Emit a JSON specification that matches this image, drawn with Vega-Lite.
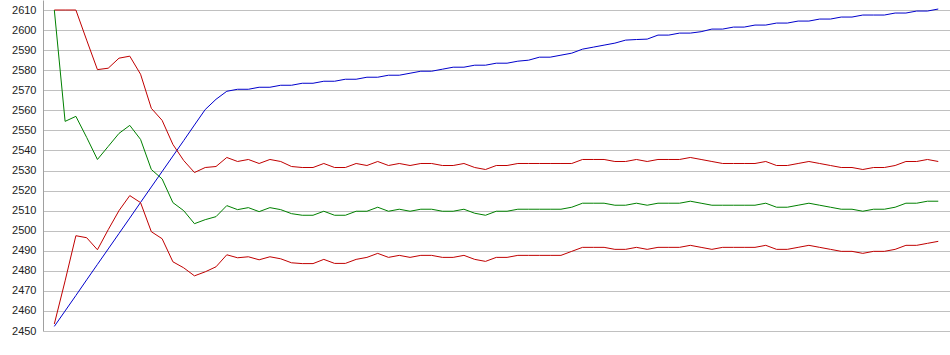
{
"$schema": "https://vega.github.io/schema/vega-lite/v6.json",
"width": 907, "height": 331,
"autosize": "none",
"padding": {"left": 43, "top": 0, "right": 0, "bottom": 24},
"background": "white",
"config": {"view": {"stroke": null}},
"data": {"values": [
{"i":0,"s":"b","v":2452.3},{"i":1,"s":"b","v":2460},{"i":2,"s":"b","v":2467.7},{"i":3,"s":"b","v":2475.5},{"i":4,"s":"b","v":2483.2},{"i":5,"s":"b","v":2490.9},{"i":6,"s":"b","v":2498.6},{"i":7,"s":"b","v":2506.3},{"i":8,"s":"b","v":2514.1},{"i":9,"s":"b","v":2521.8},{"i":10,"s":"b","v":2529.5},{"i":11,"s":"b","v":2537.2},{"i":12,"s":"b","v":2544.9},{"i":13,"s":"b","v":2552.7},{"i":14,"s":"b","v":2560.4},{"i":15,"s":"b","v":2565.5},{"i":16,"s":"b","v":2569.5},{"i":17,"s":"b","v":2570.5},{"i":18,"s":"b","v":2570.5},{"i":19,"s":"b","v":2571.5},{"i":20,"s":"b","v":2571.5},{"i":21,"s":"b","v":2572.5},{"i":22,"s":"b","v":2572.5},{"i":23,"s":"b","v":2573.5},{"i":24,"s":"b","v":2573.5},{"i":25,"s":"b","v":2574.5},{"i":26,"s":"b","v":2574.5},{"i":27,"s":"b","v":2575.5},{"i":28,"s":"b","v":2575.5},{"i":29,"s":"b","v":2576.5},{"i":30,"s":"b","v":2576.5},{"i":31,"s":"b","v":2577.5},{"i":32,"s":"b","v":2577.5},{"i":33,"s":"b","v":2578.5},{"i":34,"s":"b","v":2579.5},{"i":35,"s":"b","v":2579.5},{"i":36,"s":"b","v":2580.5},{"i":37,"s":"b","v":2581.5},{"i":38,"s":"b","v":2581.5},{"i":39,"s":"b","v":2582.5},{"i":40,"s":"b","v":2582.5},{"i":41,"s":"b","v":2583.5},{"i":42,"s":"b","v":2583.5},{"i":43,"s":"b","v":2584.5},{"i":44,"s":"b","v":2585},{"i":45,"s":"b","v":2586.5},{"i":46,"s":"b","v":2586.5},{"i":47,"s":"b","v":2587.5},{"i":48,"s":"b","v":2588.5},{"i":49,"s":"b","v":2590.5},{"i":50,"s":"b","v":2591.5},{"i":51,"s":"b","v":2592.5},{"i":52,"s":"b","v":2593.5},{"i":53,"s":"b","v":2595},{"i":54,"s":"b","v":2595.3},{"i":55,"s":"b","v":2595.5},{"i":56,"s":"b","v":2597.5},{"i":57,"s":"b","v":2597.5},{"i":58,"s":"b","v":2598.5},{"i":59,"s":"b","v":2598.5},{"i":60,"s":"b","v":2599.2},{"i":61,"s":"b","v":2600.5},{"i":62,"s":"b","v":2600.5},{"i":63,"s":"b","v":2601.5},{"i":64,"s":"b","v":2601.5},{"i":65,"s":"b","v":2602.5},{"i":66,"s":"b","v":2602.5},{"i":67,"s":"b","v":2603.5},{"i":68,"s":"b","v":2603.5},{"i":69,"s":"b","v":2604.5},{"i":70,"s":"b","v":2604.5},{"i":71,"s":"b","v":2605.5},{"i":72,"s":"b","v":2605.5},{"i":73,"s":"b","v":2606.5},{"i":74,"s":"b","v":2606.5},{"i":75,"s":"b","v":2607.5},{"i":76,"s":"b","v":2607.5},{"i":77,"s":"b","v":2607.5},{"i":78,"s":"b","v":2608.5},{"i":79,"s":"b","v":2608.5},{"i":80,"s":"b","v":2609.5},{"i":81,"s":"b","v":2609.5},{"i":82,"s":"b","v":2610.5},
{"i":0,"s":"r1","v":2610},{"i":1,"s":"r1","v":2610},{"i":2,"s":"r1","v":2610},{"i":3,"s":"r1","v":2595},{"i":4,"s":"r1","v":2580.3},{"i":5,"s":"r1","v":2581},{"i":6,"s":"r1","v":2586},{"i":7,"s":"r1","v":2587},{"i":8,"s":"r1","v":2578},{"i":9,"s":"r1","v":2561},{"i":10,"s":"r1","v":2555},{"i":11,"s":"r1","v":2543},{"i":12,"s":"r1","v":2535},{"i":13,"s":"r1","v":2529},{"i":14,"s":"r1","v":2531.5},{"i":15,"s":"r1","v":2532},{"i":16,"s":"r1","v":2536.5},{"i":17,"s":"r1","v":2534.5},{"i":18,"s":"r1","v":2535.5},{"i":19,"s":"r1","v":2533.5},{"i":20,"s":"r1","v":2535.5},{"i":21,"s":"r1","v":2534.5},{"i":22,"s":"r1","v":2532},{"i":23,"s":"r1","v":2531.5},{"i":24,"s":"r1","v":2531.5},{"i":25,"s":"r1","v":2533.5},{"i":26,"s":"r1","v":2531.5},{"i":27,"s":"r1","v":2531.5},{"i":28,"s":"r1","v":2533.5},{"i":29,"s":"r1","v":2532.5},{"i":30,"s":"r1","v":2534.5},{"i":31,"s":"r1","v":2532.5},{"i":32,"s":"r1","v":2533.5},{"i":33,"s":"r1","v":2532.5},{"i":34,"s":"r1","v":2533.5},{"i":35,"s":"r1","v":2533.5},{"i":36,"s":"r1","v":2532.5},{"i":37,"s":"r1","v":2532.5},{"i":38,"s":"r1","v":2533.5},{"i":39,"s":"r1","v":2531.5},{"i":40,"s":"r1","v":2530.5},{"i":41,"s":"r1","v":2532.5},{"i":42,"s":"r1","v":2532.5},{"i":43,"s":"r1","v":2533.5},{"i":44,"s":"r1","v":2533.5},{"i":45,"s":"r1","v":2533.5},{"i":46,"s":"r1","v":2533.5},{"i":47,"s":"r1","v":2533.5},{"i":48,"s":"r1","v":2533.5},{"i":49,"s":"r1","v":2535.5},{"i":50,"s":"r1","v":2535.5},{"i":51,"s":"r1","v":2535.5},{"i":52,"s":"r1","v":2534.5},{"i":53,"s":"r1","v":2534.5},{"i":54,"s":"r1","v":2535.5},{"i":55,"s":"r1","v":2534.5},{"i":56,"s":"r1","v":2535.5},{"i":57,"s":"r1","v":2535.5},{"i":58,"s":"r1","v":2535.5},{"i":59,"s":"r1","v":2536.5},{"i":60,"s":"r1","v":2535.5},{"i":61,"s":"r1","v":2534.5},{"i":62,"s":"r1","v":2533.5},{"i":63,"s":"r1","v":2533.5},{"i":64,"s":"r1","v":2533.5},{"i":65,"s":"r1","v":2533.5},{"i":66,"s":"r1","v":2534.5},{"i":67,"s":"r1","v":2532.5},{"i":68,"s":"r1","v":2532.5},{"i":69,"s":"r1","v":2533.5},{"i":70,"s":"r1","v":2534.5},{"i":71,"s":"r1","v":2533.5},{"i":72,"s":"r1","v":2532.5},{"i":73,"s":"r1","v":2531.5},{"i":74,"s":"r1","v":2531.5},{"i":75,"s":"r1","v":2530.5},{"i":76,"s":"r1","v":2531.5},{"i":77,"s":"r1","v":2531.5},{"i":78,"s":"r1","v":2532.5},{"i":79,"s":"r1","v":2534.5},{"i":80,"s":"r1","v":2534.5},{"i":81,"s":"r1","v":2535.5},{"i":82,"s":"r1","v":2534.5},
{"i":0,"s":"g","v":2610},{"i":1,"s":"g","v":2554.5},{"i":2,"s":"g","v":2557},{"i":3,"s":"g","v":2546.5},{"i":4,"s":"g","v":2535.5},{"i":5,"s":"g","v":2542},{"i":6,"s":"g","v":2548.5},{"i":7,"s":"g","v":2552.5},{"i":8,"s":"g","v":2545.5},{"i":9,"s":"g","v":2530.5},{"i":10,"s":"g","v":2525.8},{"i":11,"s":"g","v":2514},{"i":12,"s":"g","v":2510},{"i":13,"s":"g","v":2503.5},{"i":14,"s":"g","v":2505.5},{"i":15,"s":"g","v":2507},{"i":16,"s":"g","v":2512.5},{"i":17,"s":"g","v":2510.5},{"i":18,"s":"g","v":2511.5},{"i":19,"s":"g","v":2509.5},{"i":20,"s":"g","v":2511.5},{"i":21,"s":"g","v":2510.5},{"i":22,"s":"g","v":2508.5},{"i":23,"s":"g","v":2507.7},{"i":24,"s":"g","v":2507.7},{"i":25,"s":"g","v":2509.7},{"i":26,"s":"g","v":2507.7},{"i":27,"s":"g","v":2507.7},{"i":28,"s":"g","v":2509.7},{"i":29,"s":"g","v":2509.7},{"i":30,"s":"g","v":2511.7},{"i":31,"s":"g","v":2509.7},{"i":32,"s":"g","v":2510.7},{"i":33,"s":"g","v":2509.7},{"i":34,"s":"g","v":2510.7},{"i":35,"s":"g","v":2510.7},{"i":36,"s":"g","v":2509.7},{"i":37,"s":"g","v":2509.7},{"i":38,"s":"g","v":2510.7},{"i":39,"s":"g","v":2508.7},{"i":40,"s":"g","v":2507.7},{"i":41,"s":"g","v":2509.7},{"i":42,"s":"g","v":2509.7},{"i":43,"s":"g","v":2510.7},{"i":44,"s":"g","v":2510.7},{"i":45,"s":"g","v":2510.7},{"i":46,"s":"g","v":2510.7},{"i":47,"s":"g","v":2510.7},{"i":48,"s":"g","v":2511.7},{"i":49,"s":"g","v":2513.7},{"i":50,"s":"g","v":2513.7},{"i":51,"s":"g","v":2513.7},{"i":52,"s":"g","v":2512.7},{"i":53,"s":"g","v":2512.7},{"i":54,"s":"g","v":2513.7},{"i":55,"s":"g","v":2512.7},{"i":56,"s":"g","v":2513.7},{"i":57,"s":"g","v":2513.7},{"i":58,"s":"g","v":2513.7},{"i":59,"s":"g","v":2514.7},{"i":60,"s":"g","v":2513.7},{"i":61,"s":"g","v":2512.7},{"i":62,"s":"g","v":2512.7},{"i":63,"s":"g","v":2512.7},{"i":64,"s":"g","v":2512.7},{"i":65,"s":"g","v":2512.7},{"i":66,"s":"g","v":2513.7},{"i":67,"s":"g","v":2511.7},{"i":68,"s":"g","v":2511.7},{"i":69,"s":"g","v":2512.7},{"i":70,"s":"g","v":2513.7},{"i":71,"s":"g","v":2512.7},{"i":72,"s":"g","v":2511.7},{"i":73,"s":"g","v":2510.7},{"i":74,"s":"g","v":2510.7},{"i":75,"s":"g","v":2509.7},{"i":76,"s":"g","v":2510.7},{"i":77,"s":"g","v":2510.7},{"i":78,"s":"g","v":2511.7},{"i":79,"s":"g","v":2513.7},{"i":80,"s":"g","v":2513.7},{"i":81,"s":"g","v":2514.7},{"i":82,"s":"g","v":2514.7},
{"i":0,"s":"r2","v":2453.5},{"i":1,"s":"r2","v":2475},{"i":2,"s":"r2","v":2497.5},{"i":3,"s":"r2","v":2496.5},{"i":4,"s":"r2","v":2490.5},{"i":5,"s":"r2","v":2500.5},{"i":6,"s":"r2","v":2510},{"i":7,"s":"r2","v":2517.5},{"i":8,"s":"r2","v":2514},{"i":9,"s":"r2","v":2499.5},{"i":10,"s":"r2","v":2496},{"i":11,"s":"r2","v":2484.5},{"i":12,"s":"r2","v":2481.5},{"i":13,"s":"r2","v":2477.5},{"i":14,"s":"r2","v":2479.5},{"i":15,"s":"r2","v":2482},{"i":16,"s":"r2","v":2488},{"i":17,"s":"r2","v":2486.5},{"i":18,"s":"r2","v":2487},{"i":19,"s":"r2","v":2485.5},{"i":20,"s":"r2","v":2487},{"i":21,"s":"r2","v":2486},{"i":22,"s":"r2","v":2484},{"i":23,"s":"r2","v":2483.6},{"i":24,"s":"r2","v":2483.6},{"i":25,"s":"r2","v":2485.7},{"i":26,"s":"r2","v":2483.7},{"i":27,"s":"r2","v":2483.7},{"i":28,"s":"r2","v":2485.7},{"i":29,"s":"r2","v":2486.7},{"i":30,"s":"r2","v":2488.7},{"i":31,"s":"r2","v":2486.7},{"i":32,"s":"r2","v":2487.7},{"i":33,"s":"r2","v":2486.7},{"i":34,"s":"r2","v":2487.7},{"i":35,"s":"r2","v":2487.7},{"i":36,"s":"r2","v":2486.7},{"i":37,"s":"r2","v":2486.7},{"i":38,"s":"r2","v":2487.7},{"i":39,"s":"r2","v":2485.7},{"i":40,"s":"r2","v":2484.7},{"i":41,"s":"r2","v":2486.7},{"i":42,"s":"r2","v":2486.7},{"i":43,"s":"r2","v":2487.7},{"i":44,"s":"r2","v":2487.7},{"i":45,"s":"r2","v":2487.7},{"i":46,"s":"r2","v":2487.7},{"i":47,"s":"r2","v":2487.7},{"i":48,"s":"r2","v":2489.7},{"i":49,"s":"r2","v":2491.7},{"i":50,"s":"r2","v":2491.7},{"i":51,"s":"r2","v":2491.7},{"i":52,"s":"r2","v":2490.7},{"i":53,"s":"r2","v":2490.7},{"i":54,"s":"r2","v":2491.7},{"i":55,"s":"r2","v":2490.7},{"i":56,"s":"r2","v":2491.7},{"i":57,"s":"r2","v":2491.7},{"i":58,"s":"r2","v":2491.7},{"i":59,"s":"r2","v":2492.7},{"i":60,"s":"r2","v":2491.7},{"i":61,"s":"r2","v":2490.7},{"i":62,"s":"r2","v":2491.7},{"i":63,"s":"r2","v":2491.7},{"i":64,"s":"r2","v":2491.7},{"i":65,"s":"r2","v":2491.7},{"i":66,"s":"r2","v":2492.7},{"i":67,"s":"r2","v":2490.7},{"i":68,"s":"r2","v":2490.7},{"i":69,"s":"r2","v":2491.7},{"i":70,"s":"r2","v":2492.7},{"i":71,"s":"r2","v":2491.7},{"i":72,"s":"r2","v":2490.7},{"i":73,"s":"r2","v":2489.7},{"i":74,"s":"r2","v":2489.7},{"i":75,"s":"r2","v":2488.7},{"i":76,"s":"r2","v":2489.7},{"i":77,"s":"r2","v":2489.7},{"i":78,"s":"r2","v":2490.7},{"i":79,"s":"r2","v":2492.7},{"i":80,"s":"r2","v":2492.7},{"i":81,"s":"r2","v":2493.7},{"i":82,"s":"r2","v":2494.7}
]},
"mark": {"type": "line", "strokeWidth": 1, "interpolate": "linear"},
"encoding": {
"x": {"field": "i", "type": "quantitative", "scale": {"domain": [-1.05, 83.09], "nice": false, "zero": false}, "axis": null},
"y": {"field": "v", "type": "quantitative", "scale": {"domain": [2450, 2615], "nice": false, "zero": false},
"axis": {"values": [2450,2460,2470,2480,2490,2500,2510,2520,2530,2540,2550,2560,2570,2580,2590,2600,2610], "format": "d", "grid": true, "gridColor": "#c0c0c0", "gridOpacity": 1, "gridWidth": 1, "domain": true, "domainColor": "#a0a0a0", "domainWidth": 1, "ticks": false, "labelFont": "Liberation Sans", "labelFontSize": 11, "labelColor": "#222222", "labelPadding": 7, "title": null}},
"color": {"field": "s", "type": "nominal", "scale": {"domain": ["b", "r1", "g", "r2"], "range": ["#0000cc", "#c00000", "#008000", "#c00000"]}, "legend": null}
}
}
